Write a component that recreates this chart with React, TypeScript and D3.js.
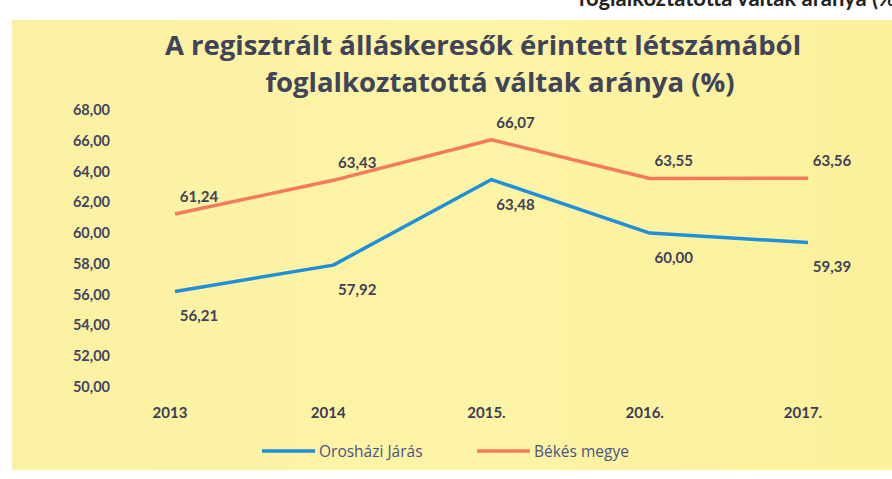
import { useRef, useEffect } from 'react'
import * as d3 from 'd3'

const years = ['2013', '2014', '2015.', '2016.', '2017.']
const oroshaza = [56.21, 57.92, 63.48, 60.0, 59.39]
const bekes = [61.24, 63.43, 66.07, 63.55, 63.56]
const yTicks = [50, 52, 54, 56, 58, 60, 62, 64, 66, 68]

const W = 892
const H = 479
const fmt = (v: number) => v.toFixed(2).replace('.', ',')

const App = () => {
  const svgRef = useRef<SVGSVGElement>(null)

  useEffect(() => {
    const svg = d3.select(svgRef.current)
    svg.selectAll('*').remove()

    // paper background
    const defs = svg.append('defs')
    const grad = defs.append('linearGradient').attr('id', 'bg').attr('x1', 0).attr('x2', 1).attr('y1', 0).attr('y2', 0)
    grad.append('stop').attr('offset', '0%').attr('stop-color', '#fbf1a2')
    grad.append('stop').attr('offset', '50%').attr('stop-color', '#fdf4a6')
    grad.append('stop').attr('offset', '100%').attr('stop-color', '#fcf09c')
    svg.append('rect').attr('width', W).attr('height', H).attr('fill', '#ffffff')
    svg.append('rect').attr('x', 12).attr('y', 20).attr('width', W - 12).attr('height', 450).attr('fill', 'url(#bg)')

    // heading of the page above, cut by the scan
    svg
      .append('text')
      .attr('x', 902)
      .attr('y', 6)
      .attr('text-anchor', 'end')
      .style('font-family', 'Lato, sans-serif')
      .style('font-weight', 'bold')
      .style('font-size', '22px')
      .attr('fill', '#222')
      .text('foglalkoztatottá váltak aránya (%)')

    const title = svg
      .append('text')
      .attr('text-anchor', 'middle')
      .style('font-family', '"Open Sans", sans-serif')
      .style('font-weight', 'bold')
      .style('font-size', '27.5px')
      .attr('fill', '#40445a')
    title.append('tspan').attr('x', 483).attr('y', 55).text('A regisztrált álláskeresők érintett létszámából')
    title.append('tspan').attr('x', 500).attr('y', 92).text('foglalkoztatottá váltak aránya (%)')

    const x = d3.scalePoint().domain(years).range([175, 808])
    const y = d3.scaleLinear().domain([50, 68]).range([387, 110])

    svg
      .append('g')
      .selectAll('text')
      .data(yTicks)
      .join('text')
      .attr('x', 110)
      .attr('y', (d) => y(d) + 5)
      .attr('text-anchor', 'end')
      .style('font-family', 'Lato, sans-serif')
      .style('font-size', '14.5px')
      .style('font-weight', 'bold')
      .attr('fill', '#414563')
      .text((d) => fmt(d))

    svg
      .append('g')
      .selectAll('text')
      .data(years)
      .join('text')
      .attr('x', (d) => (x(d) as number) - 5)
      .attr('y', 418)
      .attr('text-anchor', 'middle')
      .style('font-family', 'Lato, sans-serif')
      .style('font-size', '15px')
      .style('font-weight', 'bold')
      .attr('fill', '#3a3d55')
      .text((d) => d)

    const series = [
      { name: 'Orosházi Járás', values: oroshaza, color: '#1e8fd8', dy: 30 },
      { name: 'Békés megye', values: bekes, color: '#f47a5c', dy: -12 },
    ]

    const line = d3
      .line<number>()
      .x((d, i) => x(years[i]) as number)
      .y((d) => y(d))

    series.forEach((s) => {
      svg
        .append('path')
        .datum(s.values)
        .attr('d', line)
        .attr('fill', 'none')
        .attr('stroke', s.color)
        .attr('stroke-width', 3.5)
        .attr('stroke-linejoin', 'round')
      svg
        .append('g')
        .selectAll('text')
        .data(s.values)
        .join('text')
        .attr('x', (d, i) => (x(years[i]) as number) + 24)
        .attr('y', (d) => y(d) + s.dy)
        .attr('text-anchor', 'middle')
        .style('font-family', 'Lato, sans-serif')
        .style('font-size', '15px')
        .style('font-weight', 'bold')
        .attr('fill', '#3e4158')
        .text((d) => fmt(d))
    })

    // legend
    const legend = svg.append('g').attr('transform', 'translate(262, 451)')
    series.forEach((s, i) => {
      const g = legend.append('g').attr('transform', `translate(${i * 215}, 0)`)
      g.append('line').attr('x1', 0).attr('x2', 53).attr('y1', 0).attr('y2', 0).attr('stroke', s.color).attr('stroke-width', 3.5)
      g.append('text')
        .attr('x', 57)
        .attr('y', 6)
        .style('font-family', '"Open Sans", sans-serif')
        .style('font-size', '15.5px')
        .attr('fill', '#4a5585')
        .text(s.name)
    })
  }, [])

  return (
    <div style={{ position: 'absolute', left: 0, top: 0 }}>
      <svg ref={svgRef} width={W} height={H} style={{ display: 'block' }}></svg>
    </div>
  )
}

export default App
